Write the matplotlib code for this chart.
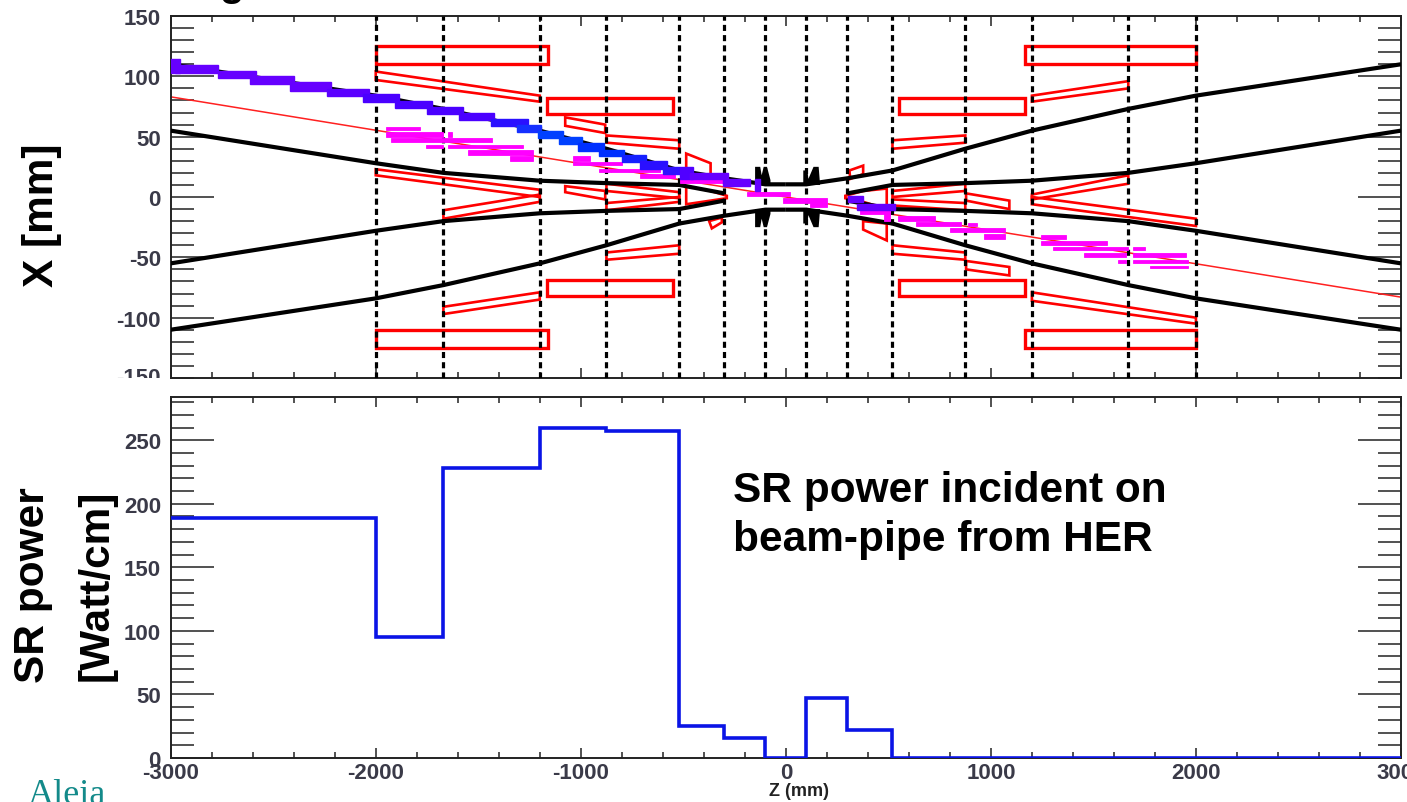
import matplotlib
matplotlib.use("Agg")
import matplotlib.pyplot as plt
from matplotlib.ticker import MultipleLocator
from matplotlib.transforms import Bbox
from matplotlib.patches import Polygon, Rectangle

plt.rcParams['font.family'] = ['Liberation Sans', 'DejaVu Sans']

W, H = 1407, 803

# ---------- data ----------
apertures = [-2000, -1670, -1200, -875, -520, -300, -100, 100, 300, 520, 875, 1200, 1670, 2000]

inner_z = [300, 520, 875, 1200, 1670, 2000, 3000]
inner_x = [3, 10, 11.5, 13.5, 20, 28, 55]
outer_z = [0, 100, 300, 520, 875, 1200, 1670, 2000, 3000]
outer_x = [10.5, 10.5, 15.5, 22, 40, 55, 73, 84, 110]

flange_left = [(-150, 10), (-150, 25), (-125, 25), (-118, 18), (-108, 25), (-92, 25), (-75, 14), (-75, 10)]
flange_right = [(85, 10), (85, 22), (105, 22), (110, 15), (135, 25), (160, 25), (167, 10)]

fan_z = [-3000, 3000]
fan_x = [83, -83]

red_rects = [  # z0, z1, x0, x1
    (-2000, -1160, 110, 125), (-2000, -1160, -125, -110),
    (1167, 2000, 110, 125), (1167, 2000, -125, -110),
    (-1165, -550, 69, 82), (-1165, -550, -82, -69),
    (553, 1167, 69, 82), (553, 1167, -82, -69),
]
red_polys = [
    [(-2000, 104), (-1200, 84), (-1200, 79), (-2000, 97)],
    [(1200, 84), (1670, 96), (1670, 90), (1200, 79)],
    [(-1670, -91), (-1200, -79), (-1200, -85), (-1670, -97)],
    [(1200, -79), (2000, -100), (2000, -105), (1200, -86)],
    [(-2000, 23), (-1200, 6), (-1200, 0), (-2000, 18)],
    [(-1670, -11), (-1200, 2), (-1200, -4), (-1670, -18)],
    [(1200, 2), (1670, 18), (1670, 11), (1200, -2)],
    [(1200, 0), (2000, -18), (2000, -24), (1200, -6)],
    [(-1076, 66), (-881, 60), (-881, 53), (-1076, 59)],
    [(-1076, 9), (-881, 5), (-881, -2), (-1076, 4)],
    [(879, -53), (1090, -58), (1090, -65), (879, -60)],
    [(879, 3), (1090, -3), (1090, -10), (879, -3)],
    [(-875, 51), (-520, 47), (-520, 40), (-875, 45)],
    [(-875, -46), (-520, -40), (-520, -47), (-875, -52)],
    [(520, 47), (875, 51), (875, 45), (520, 40)],
    [(520, -40), (875, -46), (875, -52), (520, -47)],
    [(-875, 11), (-520, 4), (-520, -1), (-875, 5)],
    [(-875, -5), (-520, 0), (-520, -4), (-875, -11)],
    [(520, 5), (875, 11), (875, 5), (520, 0)],
    [(520, -2), (875, -5), (875, -11), (520, -7)],
    [(-486, 36), (-367, 28), (-367, 15), (-486, 20)],
    [(-486, 9), (-367, 5), (-288, 1), (-288, -1), (-367, -3), (-486, -6)],
    [(-374, -20), (-312, -17), (-312, -21), (-361, -26)],
    [(310, 22), (377, 26), (377, 19), (314, 15)],
    [(290, 1), (377, 5), (492, 7), (492, -10), (377, -4), (290, -1)],
    [(377, -20), (492, -22), (492, -36), (377, -27)],
]

blue_bins = [  # z0, z1, x0, x1
    (-3000, -2956, 103, 114), (-2978, -2771, 103, 109), (-2771, -2586, 99, 104.6),
    (-2612, -2401, 93.6, 100), (-2416, -2216, 88, 95), (-2238, -2031, 84, 89.4),
    (-2063, -1889, 79, 85.3), (-1907, -1726, 73.4, 79.7), (-1748, -1573, 68.7, 74.8),
    (-1595, -1421, 64, 70), (-1438, -1258, 58.5, 65), (-1312, -1192, 54, 59.6),
    (-1207, -1088, 49, 55), (-1105, -996, 44, 50), (-1014, -887, 38, 44.7),
    (-909, -789, 33.6, 39), (-800, -680, 28.6, 35), (-713, -582, 23, 29.7),
    (-598, -516, 19, 24.6), (-516, -451, 15, 24.6), (-467, -281, 15, 20),
    (-306, -174, 9, 15), (-150, -125, 5, 15), (304, 377, -4, 1), (346, 533, -11, -6),
]
blue_colors = [
    '#6600ff', '#6600ff', '#6600ff', '#6600ff', '#6600ff', '#5a00ff',
    '#4a00ff', '#4a00ff', '#4a00ff', '#4a00ff', '#2a10ff', '#1530ff',
    '#0040ff', '#0040ff', '#0030ff', '#0030ff', '#1520ff', '#2a10ff',
    '#3010ff', '#5000ff', '#6600ff', '#6600ff', '#6600ff', '#6600ff', '#6600ff',
]

magenta_bins = [
    (-1950, -1785, 55.7, 58), (-1950, -1671, 50, 54), (-1650, -1628, 50, 54),
    (-1928, -1432, 45.8, 48.5), (-1650, -1284, 41, 43.5), (-1754, -1671, 41, 43.5),
    (-1552, -1231, 35, 39), (-1345, -1231, 30, 33.6), (-1040, -953, 30, 33.6),
    (-1040, -800, 26.4, 28.6), (-909, -855, 21, 23), (-855, -615, 20.5, 23),
    (-713, -539, 15.4, 19), (-516, -281, 12, 15), (-190, 21, 1, 4.4),
    (-13, 200, -5, -1), (120, 200, -8, -5), (362, 508, -14.4, -11),
    (480, 508, -20, -14.4), (548, 725, -19.7, -16), (637, 856, -24.4, -21),
    (889, 933, -24.4, -21.6), (802, 1069, -29.4, -25.8), (968, 1069, -35, -30.7),
    (1246, 1368, -35, -31.3), (1246, 1567, -39.9, -36.8), (1302, 1668, -44, -41.8),
    (1456, 1660, -49.5, -46.5), (1695, 1753, -44, -41.8), (1695, 1953, -49.5, -46.5),
    (1622, 1660, -55, -52), (1695, 1962, -55, -52), (1778, 1962, -59, -57),
]

power_edges = [-3000, -2000, -1670, -1200, -875, -520, -300, -100, 100, 300, 520, 3000]
power_vals = [189, 95, 228, 259.5, 257, 25, 16, 0, 47, 22, 0]

top_ticks = [150, 100, 50, 0, -50, -100]
top_clipped_tick = -150
bottom_ticks = [0, 50, 100, 150, 200, 250]
x_ticks = [-3000, -2000, -1000, 0, 1000, 2000, 3000]

# ---------- layout ----------
fig = plt.figure(figsize=(W / 100, H / 100), dpi=100, facecolor='white')


def axes_px(x0, x1, y0, y1):
    return fig.add_axes([x0 / W, 1 - y1 / H, (x1 - x0) / W, (y1 - y0) / H])


def ftext(px, py, s, **kw):
    return fig.text(px / W, 1 - py / H, s, **kw)


ax1 = axes_px(170.7, 1401, 17, 379)
ax2 = axes_px(170.7, 1401, 398, 759)
TICKC = '#222222'
LABC = '#3a3a48'
LABFS = 16

for ax in (ax1, ax2):
    ax.set_xlim(-3000, 3000)
    ax.xaxis.set_major_locator(MultipleLocator(1000))
    ax.xaxis.set_minor_locator(MultipleLocator(200))
    ax.yaxis.set_major_locator(MultipleLocator(50))
    ax.yaxis.set_minor_locator(MultipleLocator(10))
    ax.tick_params(which='major', axis='y', direction='in', length=31, width=1.1,
                   left=True, right=True, color=TICKC, pad=7)
    ax.tick_params(which='minor', axis='y', direction='in', length=16.5, width=1.1,
                   left=True, right=True, color=TICKC)
    ax.tick_params(which='major', axis='x', direction='in', length=7.5, width=1.1,
                   top=True, bottom=True, color=TICKC)
    ax.tick_params(which='minor', axis='x', direction='in', length=4, width=1.1,
                   top=True, bottom=True, color=TICKC)
    for s in ax.spines.values():
        s.set_linewidth(1.4)
        s.set_color(TICKC)

# ---------- top panel ----------
ax1.set_ylim(-150, 150)
ax1.set_xticks(x_ticks)
ax1.set_xticklabels([])
ax1.set_yticks(top_ticks)
ax1.set_yticklabels([str(v) for v in top_ticks], fontsize=LABFS, fontweight='bold', color=LABC)
ftext(161, 379, str(top_clipped_tick), ha='right', va='center', fontsize=LABFS, fontweight='bold',
      color=LABC, clip_on=True, clip_box=Bbox([[0, H - 379], [170, H]]))

for z0, z1, x0, x1 in red_rects:
    ax1.add_patch(Rectangle((z0, x0), z1 - z0, x1 - x0, fill=False, ec='#ff0000', lw=2.4, zorder=2))
for pts in red_polys:
    ax1.add_patch(Polygon(pts, closed=True, fill=False, ec='#ff0000', lw=1.9, zorder=2))
ax1.plot(fan_z, fan_x, color='#ff2020', lw=1.1, zorder=2.5)

for sx in (1, -1):
    for sy in (1, -1):
        ax1.plot([sx * z for z in inner_z], [sy * v for v in inner_x],
                 color='black', lw=3.0, zorder=3, solid_capstyle='butt')
        ax1.plot([sx * z for z in outer_z], [sy * v for v in outer_x],
                 color='black', lw=3.0, zorder=3, solid_capstyle='butt')
for sy in (1, -1):
    for shape in (flange_left, flange_right):
        ax1.add_patch(Polygon([(z, sy * v) for z, v in shape], closed=True, fc='black', ec='none', zorder=3))

for z in apertures:
    ax1.axvline(z, color='black', lw=2.3, linestyle=(0, (1.9, 1.3)), zorder=4)

for z0, z1, x0, x1 in magenta_bins:
    ax1.add_patch(Rectangle((z0, x0), z1 - z0, x1 - x0, fc='#ff00ff', ec='#ff00ff', lw=0.6, zorder=5))
for (z0, z1, x0, x1), c in zip(blue_bins, blue_colors):
    ax1.add_patch(Rectangle((z0, x0), z1 - z0, x1 - x0, fc=c, ec=c, lw=1.0, zorder=6))

# ---------- bottom panel ----------
ax2.set_ylim(0, 284)
ax2.set_xticks(x_ticks)
ax2.set_xticklabels([str(v) for v in x_ticks], fontsize=LABFS, fontweight='bold', color=LABC)
ax2.tick_params(axis='x', which='major', pad=3)
ax2.set_yticks(bottom_ticks)
ax2.set_yticklabels([str(v) for v in bottom_ticks], fontsize=LABFS, fontweight='bold', color=LABC)
ax2.stairs(power_vals, power_edges, color='#0a14e6', lw=2.6, baseline=None, zorder=3)

BIG = 30.5
ftext(733, 491, 'SR power incident on', fontsize=BIG, fontweight='bold', va='center', ha='left')
ftext(733, 540, 'beam-pipe from HER', fontsize=BIG, fontweight='bold', va='center', ha='left')
ftext(42, 215, 'X [mm]', fontsize=BIG, fontweight='bold', rotation=90, va='center', ha='center')
ftext(33, 585, 'SR power', fontsize=BIG, fontweight='bold', rotation=90, va='center', ha='center')
ftext(97, 585, '[Watt/cm]', fontsize=BIG, fontweight='bold', rotation=90, va='center', ha='center')
ftext(799, 792, 'Z (mm)', fontsize=13, fontweight='bold', va='center', ha='center', color='#222222')
ftext(28, 804, 'Aleia', fontsize=26, family='Liberation Serif', color='#138a8a', va='baseline', ha='left')
ftext(232, -4, 'g', fontsize=29, fontweight='bold', va='baseline', ha='center')

fig.savefig('out.png', dpi=100)
